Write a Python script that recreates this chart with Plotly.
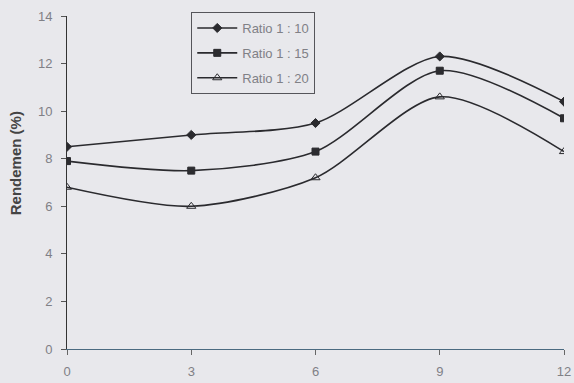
import plotly.graph_objects as go

# Extraction time (hours) on the x axis, yield (%) on the y axis
waktu = [0, 3, 6, 9, 12]
ratio_1_10 = [8.5, 9.0, 9.5, 12.3, 10.4]
ratio_1_15 = [7.9, 7.5, 8.3, 11.7, 9.7]
ratio_1_20 = [6.8, 6.0, 7.2, 10.6, 8.3]
nama_seri = ["Ratio 1 : 10", "Ratio 1 : 15", "Ratio 1 : 20"]
x_ticks = [0, 3, 6, 9, 12]
y_ticks = [0, 2, 4, 6, 8, 10, 12, 14]

bg = "#e8e8ec"
ink = "#2a2a2e"
grey_txt = "#808086"

fig = go.Figure()
styles = [
    dict(symbol="diamond", size=7, color=ink, line=dict(color=ink, width=1)),
    dict(symbol="square", size=7, color="#2c2c30", line=dict(color=ink, width=1)),
    dict(symbol="triangle-up-open", size=8, color=ink, line=dict(color=ink, width=1)),
]
for i, (name, ys, m) in enumerate(zip(nama_seri, [ratio_1_10, ratio_1_15, ratio_1_20], styles)):
    fig.add_trace(go.Scatter(
        x=waktu, y=ys, name=name, mode="lines+markers", legendgroup=f"g{i}",
        line=dict(color=ink, width=1.6, shape="spline", smoothing=0.8),
        marker=m,
    ))

fig.update_layout(
    width=574, height=383,
    margin=dict(l=67, r=10, t=16, b=34, autoexpand=False),
    paper_bgcolor=bg, plot_bgcolor=bg,
    font=dict(family="Liberation Sans, Arial, sans-serif", size=13, color=grey_txt),
    showlegend=True,
    legend=dict(
        x=0.25, y=1.012, xanchor="left", yanchor="top",
        bgcolor=bg, bordercolor="#55555a", borderwidth=1,
        font=dict(size=13, color=grey_txt),
        tracegroupgap=5, itemwidth=40,
    ),
    xaxis=dict(
        range=[0, 12], tickvals=x_ticks, showgrid=False, zeroline=False,
        showline=True, linecolor="#4a6a80", linewidth=1.2, automargin=False,
        ticks="outside", ticklen=5, tickcolor="#666", ticklabelstandoff=5,
        tickfont=dict(size=13, color=grey_txt),
    ),
    yaxis=dict(
        range=[0, 14], tickvals=y_ticks, showgrid=False, zeroline=False,
        showline=True, linecolor="#333", linewidth=1, automargin=False,
        ticks="outside", ticklen=5, tickcolor="#555", ticklabelstandoff=6,
        tickfont=dict(size=13, color=grey_txt),
    ),
    annotations=[dict(
        text="<b>Rendemen (%)</b>", textangle=-90, showarrow=False,
        xref="paper", yref="y", x=-0.103, y=7.8, xanchor="center", yanchor="middle",
        font=dict(size=15, color="#444"),
    )],
)

fig.write_html("out.html")
